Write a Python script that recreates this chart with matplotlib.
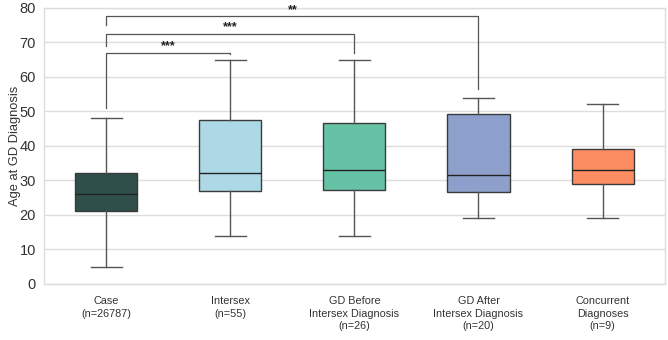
import matplotlib.pyplot as plt

plt.rcParams['font.family'] = ['Liberation Sans', 'DejaVu Sans']

# Dati
labels = ['Case\n(n=26787)', 'Intersex\n(n=55)', 'GD Before\nIntersex Diagnosis\n(n=26)',
          'GD After\nIntersex Diagnosis\n(n=20)', 'Concurrent\nDiagnoses\n(n=9)']
whis_lo = [5, 14, 14, 19, 19]
q1 = [21, 27, 27.3, 26.7, 29]
medians = [26, 32, 33, 31.5, 33]
q3 = [32, 47.5, 46.5, 49.3, 39]
whis_hi = [48, 65, 65, 54, 52]
colors = ['#2f4f4b', '#add8e6', '#66c2a5', '#8da0cb', '#fc8d62']

# Confronti: (gruppo a, gruppo b, y barra, base sinistra, base destra, testo)
comparisons = [(0, 1, 67, 51, 66.5, '***'),
               (0, 2, 72.5, 69, 66.8, '***'),
               (0, 3, 77.5, 75, 56.5, '**')]

stats = []
for i in range(len(labels)):
    stats.append({'whislo': whis_lo[i], 'q1': q1[i], 'med': medians[i],
                  'q3': q3[i], 'whishi': whis_hi[i], 'fliers': []})

fig = plt.figure(figsize=(6.68, 3.4), dpi=100)
ax = fig.add_axes([0.066, 0.165, 0.929, 0.812])

edge = '#3a3a3a'
bp = ax.bxp(stats, positions=range(len(labels)), widths=0.5, patch_artist=True,
            showfliers=False,
            boxprops=dict(edgecolor=edge, linewidth=1.0),
            whiskerprops=dict(color='#555555', linewidth=1.0),
            capprops=dict(color='#555555', linewidth=1.0),
            medianprops=dict(color='#222222', linewidth=1.0),
            capwidths=0.25)
for patch, c in zip(bp['boxes'], colors):
    patch.set_facecolor(c)

for a, b, y, ya, yb, txt in comparisons:
    ax.plot([a, a, b, b], [ya, y, y, yb], color='#555555', linewidth=0.9)
    ax.text((a + b) / 2, y + 0.2, txt, ha='center', va='bottom', fontsize=9,
            color='#222222', fontweight='bold')

ax.set_xlim(-0.5, 4.5)
ax.set_ylim(0, 80)
ax.set_yticks(range(0, 81, 10))
ax.set_xticks(range(len(labels)))
ax.set_xticklabels(labels, fontsize=7.8, color='#333333', linespacing=1.3)
ax.tick_params(axis='y', labelsize=10.5, colors='#333333', length=0, pad=6)
ax.tick_params(axis='x', length=0, pad=9)
ax.set_ylabel('Age at GD Diagnosis', fontsize=9.3, color='#333333')
ax.yaxis.set_label_coords(-0.038, 0.5)

ax.grid(axis='y', color='#dddddd', linewidth=1.0)
ax.set_axisbelow(True)
for s in ax.spines.values():
    s.set_color('#dddddd')
    s.set_linewidth(1.0)

plt.savefig('out.png', dpi=100)
